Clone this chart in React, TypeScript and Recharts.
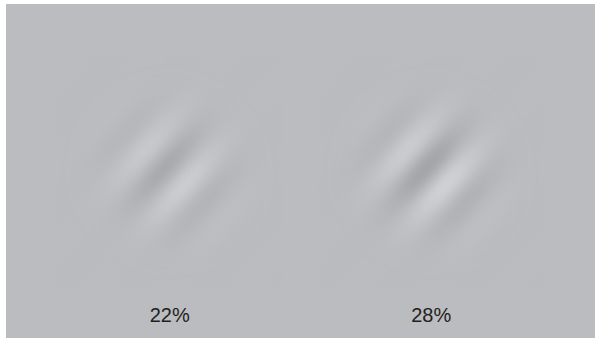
import React from "react";
import { ScatterChart, Scatter, XAxis, YAxis } from "recharts";

// Stimulus labels (Michelson contrast) and their contrast values
const labels = ["22%", "28%"];
const contrasts = [0.22, 0.28];

const tableData = labels.map((label, i) => ({ label, contrast: contrasts[i], mid: 0 }));

const BG = [187, 188, 191];
const SIGMA_ALONG = 35;
const SIGMA_ACROSS = 36;
const PERIOD = 56;
const ANGLE = 48; // stripe orientation, degrees above horizontal
const SHIFT = 7;
const GAIN = 86;
const EXTENT = 3.2; // envelope drawn out to this many sigmas

const rgb = (d: number) =>
  `rgb(${BG.map((c) => Math.max(0, Math.min(255, Math.round(c + d)))).join(",")})`;

const Gabor = (props: any) => {
  const { cx, cy, payload, index } = props;
  if (cx == null || cy == null) return null;
  const A = payload.contrast * GAIN;
  const a = (ANGLE * Math.PI) / 180;
  const nx = Math.sin(a);
  const ny = Math.cos(a);
  const x1 = cx - SHIFT * nx;
  const y1 = cy - SHIFT * ny;
  const x2 = x1 + PERIOD * nx;
  const y2 = y1 + PERIOD * ny;
  const R = Math.max(SIGMA_ALONG, SIGMA_ACROSS) * EXTENT;
  const nStripe = 24;
  const nEnv = 20;
  const sid = `gab-stripes-${index}`;
  const eid = `gab-env-${index}`;
  const mid = `gab-mask-${index}`;
  return (
    <g>
      <defs>
        <linearGradient
          id={sid}
          gradientUnits="userSpaceOnUse"
          x1={x1}
          y1={y1}
          x2={x2}
          y2={y2}
          spreadMethod="repeat"
        >
          {Array.from({ length: nStripe + 1 }, (_, k) => {
            const t = k / nStripe;
            return <stop key={k} offset={t} stopColor={rgb(-A * Math.cos(2 * Math.PI * t))} />;
          })}
        </linearGradient>
        <radialGradient
          id={eid}
          gradientUnits="userSpaceOnUse"
          cx={0}
          cy={0}
          r={1}
          gradientTransform={`translate(${cx} ${cy}) rotate(${-ANGLE}) scale(${SIGMA_ALONG * EXTENT} ${SIGMA_ACROSS * EXTENT})`}
        >
          {Array.from({ length: nEnv + 1 }, (_, k) => {
            const t = k / nEnv;
            const s = t * EXTENT;
            return <stop key={k} offset={t} stopColor="#fff" stopOpacity={Math.exp(-(s * s) / 2)} />;
          })}
        </radialGradient>
        <mask id={mid} maskUnits="userSpaceOnUse" x={cx - R} y={cy - R} width={2 * R} height={2 * R}>
          <rect x={cx - R} y={cy - R} width={2 * R} height={2 * R} fill={`url(#${eid})`} />
        </mask>
      </defs>
      <rect
        x={cx - R}
        y={cy - R}
        width={2 * R}
        height={2 * R}
        fill={`url(#${sid})`}
        mask={`url(#${mid})`}
      />
    </g>
  );
};

export default function App() {
  return (
    <div style={{ position: "absolute", left: 0, top: 0, width: 595, height: 339, background: "#fff" }}>
      <div
        style={{
          position: "absolute",
          left: 6,
          top: 4,
          width: 589,
          height: 334,
          background: "rgb(187,188,191)",
        }}
      />
      <div style={{ position: "absolute", left: 0, top: 0 }}>
        <ScatterChart width={595} height={339} data={tableData} margin={{ top: 44, right: 33, bottom: 0, left: 39 }}>
          <XAxis
            dataKey="label"
            type="category"
            height={39}
            axisLine={false}
            tickLine={false}
            tickSize={0}
            tickMargin={8}
            tick={{ fontSize: 20, fill: "#231f20", fontFamily: "'Liberation Sans', Arial, Helvetica, sans-serif" }}
          />
          <YAxis dataKey="mid" type="number" domain={[-1, 1]} hide />
          <Scatter data={tableData} dataKey="mid" isAnimationActive={false} shape={(p: any) => <Gabor {...p} />} />
        </ScatterChart>
      </div>
    </div>
  );
}
